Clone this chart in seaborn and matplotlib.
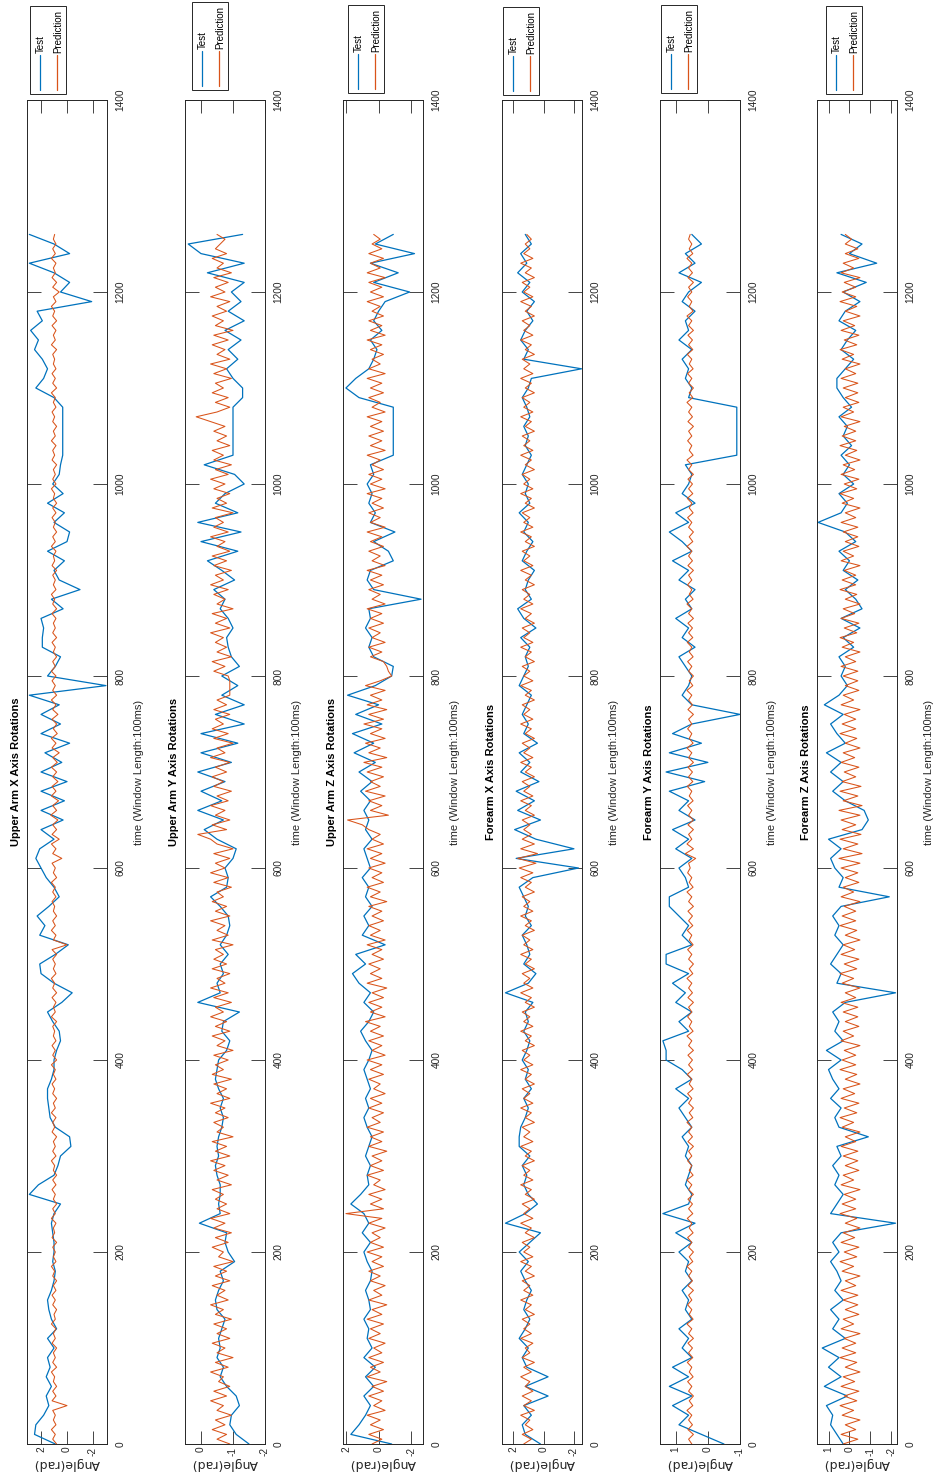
import numpy as np
import pandas as pd
import matplotlib
matplotlib.use("Agg")
import matplotlib.pyplot as plt
import seaborn as sns
from matplotlib.patches import Rectangle
from matplotlib.lines import Line2D

# ---------------- data ----------------
time_test = np.arange(0, 1261, 10)   # sample index of the Test series
time_pred = np.arange(0, 1261, 5)    # sample index of the Prediction series

titles = ["Upper Arm X Axis Rotations", "Upper Arm Y Axis Rotations",
          "Upper Arm Z Axis Rotations", "Forearm X Axis Rotations",
          "Forearm Y Axis Rotations", "Forearm Z Axis Rotations"]

ua_x_test = [0.9, 2.5, 2.4, 1.8, 1.4, 1.6, 1.2, 1.6, 1.3, 1.5,
             1.0, 1.5, 0.8, 1.2, 1.4, 1.5, 1.2, 1.0, 0.9, 1.1,
             1.0, 1.0, 1.1, 1.2, 1.0, 0.5, 2.9, 2.2, 1.0, 0.7,
             0.5, -0.3, -0.2, 0.9, 1.3, 1.4, 1.5, 1.5, 1.2, 1.0,
             1.0, 0.8, 0.5, 0.6, 1.1, 1.5, 0.4, -0.4, 1.0, 2.0,
             2.1, 0.9, -0.1, 2.1, 1.7, 2.3, 1.4, 0.6, 1.0, 1.6,
             2.0, 2.4, 2.1, 1.0, 2.0, 0.3, 2.0, 0.2, 2.0, 0.0,
             2.0, 0.4, 1.7, -0.2, 2.0, 0.5, 2.0, 0.6, 2.9, -3.0,
             1.5, 0.9, 0.5, 1.9, 1.9, 1.8, 2.0, 0.3, 1.2, -1.0,
             0.6, 1.0, 0.2, 1.5, 0.0, -0.2, 1.0, 0.2, 1.5, 0.3,
             1.1, 0.6, 0.5, 0.33, 0.33, 0.33, 0.33, 0.33, 0.33, 1.0,
             2.4, 1.8, 1.5, 1.9, 2.5, 2.2, 2.8, 1.9, 2.3, -1.9,
             0.5, -0.2, 1.0, 2.9, -0.2, 1.0, 2.9]
ua_x_pred = [0.8, 1.1, 0.9, 1.2, 0.85, 1.05, 0.9, 1.1, 0.0, 1.15,
             0.85, 1.1, 0.8, 1.05, 0.95, 1.2, 0.8, 1.1, 0.9, 1.05,
             0.8, 1.15, 0.9, 1.05, 0.85, 1.2, 0.9, 1.0, 0.8, 1.1,
             0.9, 1.15, 0.85, 1.05, 0.8, 1.1, 0.95, 1.2, 0.85, 1.05,
             0.9, 1.1, 0.8, 1.15, 0.95, 1.05, 0.85, 1.2, 0.9, 1.1,
             0.8, 1.05, 0.9, 1.15, 0.85, 1.1, 0.8, 1.05, 0.95, 1.2,
             0.85, 1.1, 0.9, 1.05, 0.8, 1.15, 0.95, 1.1, 0.85, 1.2,
             0.9, 1.05, 0.8, 1.1, 0.95, 1.15, 0.85, 1.05, 0.9, 1.2,
             0.8, 1.1, 0.9, 1.15, 0.85, 1.05, 0.95, 1.1, 0.8, 1.2,
             0.9, 1.05, 0.85, 1.15, 0.8, 1.1, 0.95, 1.2, 0.85, 1.05,
             0.9, 1.1, 0.8, 1.15, 0.0, 1.05, 0.85, 1.2, 0.9, 1.1,
             0.8, 1.05, 0.95, 1.15, 0.85, 1.1, 0.9, 1.2, 0.8, 1.05,
             0.9, 1.15, 0.4, 1.1, 0.85, 1.2, 0.6, 1.15, 0.8, 1.1,
             0.7, 1.25, 0.8, 1.1, 0.65, 1.2, 0.85, 1.15, 0.7, 1.1,
             0.8, 1.2, 0.75, 1.1, 0.6, 1.15, 0.85, 1.2, 0.75, 1.05,
             0.8, 1.15, 0.7, 1.1, 0.85, 1.2, 0.8, 1.1, 0.9, 1.15,
             0.85, 1.2, 0.9, 1.1, 0.8, 1.05, 0.9, 1.15, 0.8, 1.1,
             0.9, 1.05, 0.85, 1.15, 0.8, 1.1, 0.95, 1.2, 0.85, 1.05,
             0.9, 1.1, 0.8, 1.15, 0.95, 1.05, 0.85, 1.2, 0.9, 1.1,
             0.8, 1.05, 0.9, 1.15, 0.85, 1.1, 0.8, 1.05, 0.95, 1.2,
             0.85, 1.1, 0.9, 1.05, 0.8, 1.15, 0.95, 1.1, 0.85, 1.2,
             0.9, 1.05, 0.8, 1.1, 0.95, 1.15, 0.85, 1.05, 0.9, 1.2,
             0.8, 1.1, 0.9, 1.15, 0.85, 1.05, 0.95, 1.1, 0.8, 1.2,
             0.9, 1.05, 0.85, 1.15, 0.8, 1.1, 0.95, 1.2, 0.85, 1.05,
             0.6, 1.1, 0.8, 1.15, 0.9, 1.05, 0.85, 1.2, 0.9, 1.1,
             0.85, 1.05, 0.95]

ua_y_test = [-1.5, -1.1, -0.9, -0.95, -1.2, -1.1, -0.8, -0.6, -0.7, -0.5,
             -0.6, -0.55, -0.65, -0.75, -0.5, -0.45, -0.55, -0.7, -0.6, -1.05,
             -0.85, -0.75, -0.8, 0.05, -0.6, -0.55, -0.6, -0.6, -0.5, -0.45,
             -0.55, -0.5, -0.55, -0.65, -0.7, -0.6, -0.7, -0.55, -0.45, -0.5,
             -0.55, -0.8, -0.9, -0.65, -0.7, -1.2, 0.1, -0.6, -0.5, -0.7,
             -0.6, -0.85, -0.6, -0.8, -0.9, -0.85, -0.6, -0.3, -0.8, -0.85,
             -0.75, -1.0, -1.1, -0.5, -0.1, -0.7, 0.1, -0.65, 0.0, -0.75,
             0.1, -0.95, 0.0, -1.15, 0.0, -1.35, -0.45, -1.35, -0.65, -1.15,
             -0.65, -1.2, -0.95, -0.85, -0.8, -1.0, -0.85, -0.6, -0.75, -0.4,
             -1.05, -0.65, -0.2, -1.15, 0.0, -1.25, 0.1, -1.15, -0.45, -0.75,
             -1.35, -1.05, -0.1, -1.0, -1.0, -1.0, -1.0, -1.0, -1.0, -1.3,
             -1.3, -1.0, -0.8, -1.15, -0.85, -1.25, -0.75, -1.35, -0.85, -1.25,
             -0.95, -1.35, -0.2, -1.35, 0.0, 0.4, -1.3]
ua_y_pred = [-0.9, -0.5, -0.8, -0.35, -0.75, -0.45, -0.95, -0.5, -0.7, -0.3,
             -0.8, -0.4, -0.9, -0.55, -0.7, -0.3, -0.85, -0.45, -1.0, -0.5,
             -0.75, -0.35, -0.9, -0.5, -0.8, -0.4, -0.95, -0.45, -0.7, -0.3,
             -0.85, -0.5, -0.75, -0.35, -0.9, -0.45, -0.8, -0.4, -1.0, -0.55,
             -0.7, -0.35, -0.85, -0.45, -0.95, -0.4, -0.75, -0.3, -0.9, -0.5,
             -0.8, -0.45, -0.7, -0.35, -0.95, -0.5, -0.85, -0.4, -0.75, -0.3,
             -0.9, -0.45, -0.8, -0.35, -1.0, -0.5, -0.7, -0.4, -0.85, -0.45,
             -0.75, -0.3, -0.9, -0.5, -0.8, -0.4, -0.95, -0.35, -0.7, -0.45,
             -0.85, -0.4, -1.0, -0.5, -0.75, -0.35, -0.9, -0.45, -0.8, -0.3,
             -0.7, -0.45, -0.95, -0.4, -0.85, -0.3, -0.75, -0.5, -0.9, -0.35,
             -0.8, -0.4, -0.7, -0.45, -1.0, -0.35, -0.85, -0.5, -0.75, -0.3,
             -0.9, -0.45, -0.8, -0.35, -0.7, -0.5, -0.95, -0.4, -0.85, -0.3,
             -0.75, -0.45, -0.9, -0.4, -1.0, -0.5, -0.3, 0.1, -0.8, -0.35,
             -0.9, -0.45, -0.75, -0.3, -0.85, -0.5, -0.95, -0.4, -0.7, -0.35,
             -0.8, -0.45, -0.9, -0.3, -0.75, -0.5, -1.0, -0.4, -0.85, -0.35,
             -0.7, -0.45, -0.9, -0.4, -0.8, -0.5, -0.9, -0.9, -0.9, -0.9,
             -0.85, -0.4, -0.75, -0.35, -0.95, -0.5, -0.8, -0.45, -0.7, -0.3,
             -0.9, -0.45, -0.8, -0.35, -1.0, -0.5, -0.75, -0.4, -0.85, -0.3,
             -0.7, -0.45, -0.95, -0.4, -0.8, -0.35, -0.9, -0.5, -0.75, -0.3,
             -0.85, -0.4, -0.7, -0.45, -1.0, -0.35, -0.8, -0.5, -0.9, -0.4,
             -0.75, -0.3, -0.85, -0.45, -0.95, -0.4, -0.7, -0.35, -0.9, -0.5,
             -0.8, -0.4, -0.75, -0.3, 0.15, -0.5, -0.9, -0.45, -0.85, -0.35,
             -0.7, -0.45, -0.95, -0.4, -0.8, -0.3, -0.9, -0.5, -0.75, -0.35,
             -0.85, -0.4, -1.0, -0.45, -0.7, -0.35, -0.8, -0.5, -0.9, -0.3,
             -0.75, -0.45, -0.85, -0.4, -0.95, -0.5, -0.7, -0.35, -0.8, -0.45,
             -0.6, -0.75, -0.5]

ua_z_test = [-0.8, 1.7, 1.2, 0.8, 0.5, 0.9, 0.3, 0.8, 0.2, 0.9,
             0.4, 0.7, 0.6, 0.9, 0.5, 0.6, 0.8, 0.5, 0.4, 0.7,
             0.9, 0.5, 1.0, 0.6, 0.9, 1.7, 1.1, 0.6, 0.7, 0.5,
             0.8, 0.6, 0.4, 0.7, 0.9, 0.6, 0.8, 0.5, 0.7, 0.9,
             0.6, 0.4, 0.8, 1.1, 0.6, 0.3, 0.9, 0.5, 1.2, 1.6,
             0.8, 1.4, -0.4, 1.0, 0.6, 0.9, 0.4, 0.8, 0.6, 1.0,
             0.5, 0.7, 0.9, 0.4, 0.8, 0.6, 0.9, 0.5, 1.1, 0.4,
             1.2, 0.2, 1.5, 0.3, 1.6, -0.2, 1.4, 0.0, 1.9, 0.2,
             -0.8, -0.9, 0.3, 0.6, 0.4, 0.8, 0.5, 0.6, -2.6, 0.3,
             0.7, 0.5, -0.9, -0.6, 0.3, -1.0, 0.5, 0.2, 0.6, 0.4,
             0.7, 0.3, 0.5, -0.9, -0.9, -0.9, -0.9, -0.9, -0.9, 1.2,
             2.0, 1.4, 0.6, 0.3, 0.1, 0.5, -0.2, 0.3, 0.0, -0.4,
             -1.9, 0.3, -1.2, 0.5, -2.2, 0.2, -0.9]
ua_z_pred = [0.4, -0.2, 0.6, -0.3, 0.5, -0.1, 0.7, -0.4, 0.3, -0.2,
             0.6, -0.3, 0.4, -0.5, 0.7, -0.1, 0.5, -0.3, 0.6, -0.2,
             0.3, -0.4, 0.6, -0.1, 0.5, -0.3, 0.7, -0.2, 0.4, -0.5,
             0.6, -0.2, 0.3, -0.4, 0.5, -0.1, 0.6, -0.3, 0.4, -0.2,
             0.7, -0.3, 0.5, -0.1, 0.4, -0.4, 0.6, -0.2, 2.0, -0.3,
             0.5, -0.2, 0.6, -0.4, 0.3, -0.1, 0.7, -0.3, 0.5, -0.2,
             0.4, -0.5, 0.6, -0.2, 0.5, -0.3, 0.7, -0.1, 0.4, -0.3,
             0.6, -0.2, 0.5, -0.4, 0.3, -0.1, 0.6, -0.3, 0.5, -0.2,
             0.7, -0.4, 0.4, -0.2, 0.6, -0.3, 0.5, -0.1, 0.8, -0.4,
             0.5, -0.2, 0.6, -0.3, 0.4, -0.5, 0.7, -0.2, 0.5, -0.1,
             0.6, -0.3, 0.4, -0.2, 0.7, -0.4, 0.5, -0.1, 0.6, -0.3,
             0.4, -0.2, 0.6, -0.5, 0.5, -0.1, 0.7, -0.3, 0.4, -0.2,
             0.6, -0.4, 0.5, -0.2, 0.7, -0.3, 0.4, -0.1, 0.6, 1.0,
             1.9, -0.6, 0.5, -0.2, 0.6, -0.4, 0.8, -0.1, 0.5, -0.3,
             0.7, -0.2, 0.9, -0.5, 0.6, -0.1, 0.8, -0.4, 0.5, -0.2,
             0.9, -0.3, 0.6, -0.5, 0.7, -0.2, 0.5, -0.4, 0.8, -0.1,
             -0.8, -0.6, -0.5, -0.3, 0.5, -0.2, 0.6, -0.4, 0.4, -0.1,
             0.6, -0.3, 0.5, -0.2, 0.7, -0.4, 0.4, -0.1, 0.6, -0.3,
             0.5, -0.2, 0.7, -0.4, 0.4, -0.1, 0.6, -0.3, 0.5, -0.2,
             0.7, -0.4, 0.5, -0.1, 0.6, -0.3, 0.4, -0.2, 0.7, -0.4,
             0.5, -0.2, 0.6, -0.3, 0.4, -0.1, 0.7, -0.4, 0.5, -0.2,
             0.6, -0.3, 0.5, -0.2, 0.7, -0.4, 0.4, -0.1, 0.6, -0.3,
             0.5, -0.2, 0.7, -0.4, 0.6, -0.1, 0.4, -0.3, 0.5, -0.2,
             0.7, -0.4, 0.5, -0.2, 0.6, -0.3, 0.4, -0.1, 0.7, -0.3,
             0.5, -0.2, 0.6, -0.4, 0.7, -0.1, 0.5, -0.3, 0.6, -0.2,
             0.4, -0.1, 0.3]

fa_x_test = [0.2, 1.2, 1.4, 0.8, 1.3, -0.3, 1.2, -0.3, 1.1, 1.4,
             1.0, 1.6, 1.2, 0.9, 1.3, 1.1, 0.8, 1.2, 1.5, 1.0,
             1.6, 0.9, 0.2, 2.5, 1.2, 0.4, 1.0, 1.3, 1.1, 1.4,
             0.9, 1.6, 1.6, 1.5, 1.2, 1.0, 1.3, 0.8, 1.2, 1.0,
             1.4, 1.1, 0.9, 1.3, 1.0, 1.2, 0.7, 2.5, 1.0, 0.5,
             1.3, 0.9, 1.1, 1.4, 0.8, 1.2, 1.0, 1.3, 1.6, 0.7,
             -2.3, 1.8, -2.0, 0.5, 1.9, 0.2, 1.7, 0.6, 1.8, 0.3,
             1.5, 0.9, 1.6, 0.4, 1.3, 1.0, 1.4, 1.1, 0.8, 1.6,
             1.3, 1.0, 1.2, 0.9, 1.5, 0.5, 1.3, 1.7, 0.8, 1.2,
             1.0, 0.6, 1.4, 1.1, 0.7, 1.3, 1.0, 1.6, 0.9, 1.2,
             1.0, 1.4, 1.1, 0.8, 1.2, 1.0, 1.3, 0.9, 1.1, 1.4,
             1.0, 0.8, -2.5, 1.3, 1.0, 1.5, 1.2, 0.7, 1.1, 0.6,
             1.4, 0.9, 1.7, 1.1, 1.5, 0.8, 1.2]
fa_x_pred = [1.3, 0.8, 1.4, 0.7, 1.2, 0.9, 1.5, 0.6, 1.3, 0.8,
             1.4, 0.7, 1.2, 0.9, 1.5, 0.8, 1.3, 0.6, 1.4, 0.9,
             1.2, 0.7, 1.5, 0.8, 1.3, 0.9, 1.4, 0.6, 1.2, 0.8,
             1.5, 0.7, 1.3, 0.9, 1.4, 0.6, 1.2, 0.8, 1.5, 0.7,
             1.3, 0.9, 1.4, 0.6, 1.2, 0.8, 1.5, 0.7, 1.3, 0.9,
             1.4, 0.6, 1.2, 0.8, 1.5, 0.7, 1.3, 0.9, 1.4, 0.6,
             1.2, 0.8, 1.5, 0.7, 1.3, 0.9, 1.4, 0.6, 1.2, 0.8,
             1.5, 0.7, 1.3, 0.9, 1.4, 0.6, 1.2, 0.8, 1.5, 0.7,
             1.3, 0.9, 1.4, 0.6, 1.2, 0.8, 1.5, 0.7, 1.3, 0.9,
             1.4, 0.6, 1.2, 0.8, 1.5, 0.7, 1.3, 0.9, 1.4, 0.6,
             1.2, 0.8, 1.5, 0.7, 1.3, 0.9, 1.4, 0.6, 1.2, 0.8,
             1.5, 0.7, 1.3, 0.9, 1.4, 0.6, 1.2, 0.8, 1.5, 0.7,
             1.6, 0.5, 1.7, 0.4, 1.5, 0.6, 1.4, 0.8, 1.3, 0.9,
             1.4, 0.6, 1.2, 0.8, 1.5, 0.7, 1.3, 0.9, 1.4, 0.6,
             1.2, 0.8, 1.5, 0.7, 1.3, 0.9, 1.4, 0.6, 1.2, 0.8,
             1.5, 0.7, 1.3, 0.9, 1.4, 0.6, 1.2, 0.8, 1.5, 0.7,
             1.3, 0.9, 1.4, 0.6, 1.2, 0.8, 1.5, 0.7, 1.3, 0.9,
             1.4, 0.6, 1.2, 0.8, 1.5, 0.7, 1.3, 0.9, 1.4, 0.6,
             1.2, 0.8, 1.5, 0.7, 1.3, 0.9, 1.4, 0.6, 1.2, 0.8,
             1.5, 0.7, 1.3, 0.9, 1.4, 0.6, 1.2, 0.8, 1.5, 0.7,
             1.3, 0.9, 1.4, 0.6, 1.2, 0.8, 1.5, 0.7, 1.3, 0.9,
             1.4, 0.6, 1.2, 0.8, 1.5, 0.7, 1.3, 0.9, 1.4, 0.6,
             1.2, 0.8, 1.5, 0.7, 1.3, 0.9, 1.4, 0.6, 1.2, 0.8,
             1.5, 0.7, 1.3, 0.9, 1.4, 0.6, 1.2, 0.8, 1.5, 0.7,
             1.3, 0.9, 1.4, 0.6, 1.2, 0.8, 1.5, 0.7, 1.3, 0.9,
             1.2, 0.8, 1.1]

fa_y_test = [-0.5, 0.2, 0.9, 0.6, 1.1, 0.5, 1.2, 0.6, 1.1, 0.5,
             0.8, 0.6, 0.9, 0.5, 0.7, 0.6, 0.8, 0.5, 0.7, 0.6,
             0.9, 0.5, 1.0, 0.4, 1.4, 0.6, 0.5, 0.7, 0.6, 0.5,
             0.7, 0.6, 0.8, 0.5, 0.7, 0.9, 0.6, 1.0, 0.5, 0.8,
             1.3, 1.3, 1.4, 0.6, 0.9, 0.5, 1.0, 0.7, 1.1, 0.6,
             1.3, 1.3, 0.5, 0.8, 0.6, 0.9, 1.2, 1.2, 0.6, 0.7,
             0.9, 0.5, 1.0, 0.6, 1.1, 0.4, 0.9, 0.6, 1.2, 0.1,
             1.3, 0.0, 1.2, 0.2, 1.1, 0.5, -1.0, 0.5, 0.8, 0.6,
             0.5, 0.7, 0.9, 0.4, 0.8, 0.6, 1.0, 0.5, 0.7, 0.4,
             0.9, 0.6, 1.1, 0.5, 0.8, 1.2, 0.6, 1.0, 0.4, 0.8,
             0.6, 0.5, 0.7, -0.9, -0.9, -0.9, -0.9, -0.9, -0.9, 0.6,
             0.5, 0.7, 0.6, 0.8, 0.5, 0.9, 0.6, 0.7, 0.4, 0.8,
             0.6, 0.2, 0.9, 0.4, 0.7, 0.2, 0.5]
fa_y_pred = [0.5, 0.6, 0.45, 0.62, 0.48, 0.6, 0.5, 0.65, 0.47, 0.58,
             0.45, 0.6, 0.5, 0.63, 0.46, 0.58, 0.5, 0.64, 0.47, 0.6,
             0.48, 0.62, 0.45, 0.6, 0.5, 0.65, 0.46, 0.58, 0.5, 0.63,
             0.5, 0.6, 0.45, 0.62, 0.48, 0.6, 0.5, 0.65, 0.47, 0.58,
             0.45, 0.6, 0.5, 0.63, 0.46, 0.58, 0.5, 0.64, 0.47, 0.6,
             0.48, 0.62, 0.45, 0.6, 0.5, 0.65, 0.46, 0.58, 0.5, 0.63,
             0.5, 0.6, 0.45, 0.62, 0.48, 0.6, 0.5, 0.65, 0.47, 0.58,
             0.45, 0.6, 0.5, 0.63, 0.46, 0.58, 0.5, 0.64, 0.47, 0.6,
             0.48, 0.62, 0.45, 0.6, 0.5, 0.65, 0.46, 0.58, 0.5, 0.63,
             0.5, 0.6, 0.45, 0.62, 0.48, 0.6, 0.5, 0.65, 0.47, 0.58,
             0.45, 0.6, 0.5, 0.63, 0.46, 0.58, 0.5, 0.64, 0.47, 0.6,
             0.48, 0.62, 0.45, 0.6, 0.5, 0.65, 0.46, 0.58, 0.5, 0.63,
             0.55, 0.6, 0.38, 0.7, 0.45, 0.65, 0.5, 0.6, 0.45, 0.62,
             0.45, 0.6, 0.5, 0.63, 0.46, 0.58, 0.5, 0.64, 0.47, 0.6,
             0.48, 0.62, 0.45, 0.6, 0.5, 0.65, 0.46, 0.58, 0.5, 0.63,
             0.5, 0.6, 0.45, 0.62, 0.48, 0.6, 0.5, 0.65, 0.47, 0.58,
             0.45, 0.6, 0.5, 0.63, 0.46, 0.58, 0.5, 0.64, 0.47, 0.6,
             0.48, 0.62, 0.45, 0.6, 0.5, 0.65, 0.46, 0.58, 0.5, 0.63,
             0.5, 0.6, 0.45, 0.62, 0.48, 0.6, 0.5, 0.65, 0.47, 0.58,
             0.45, 0.6, 0.5, 0.63, 0.46, 0.58, 0.5, 0.64, 0.47, 0.6,
             0.48, 0.62, 0.45, 0.6, 0.5, 0.65, 0.46, 0.58, 0.5, 0.63,
             0.5, 0.6, 0.45, 0.62, 0.48, 0.6, 0.5, 0.65, 0.47, 0.58,
             0.45, 0.6, 0.5, 0.63, 0.46, 0.58, 0.5, 0.64, 0.47, 0.6,
             0.48, 0.62, 0.45, 0.6, 0.5, 0.65, 0.46, 0.58, 0.5, 0.63,
             0.5, 0.6, 0.45, 0.62, 0.48, 0.6, 0.5, 0.65, 0.47, 0.58,
             0.5, 0.6, 0.55]

fa_z_test = [0.3, 0.6, 0.9, 0.8, 1.1, 0.1, 1.2, 0.4, 1.0, 0.5,
             1.3, 0.2, 0.8, 0.5, 0.9, 0.3, 0.7, 0.4, 0.6, 0.9,
             0.5, 0.8, 0.4, -2.2, 0.9, 0.6, 0.3, 0.7, 0.5, 0.8,
             0.4, 0.6, -0.9, 0.5, 0.7, 0.4, 0.9, 0.5, 0.8, 1.0,
             0.4, 1.1, 0.3, 0.7, 0.5, 0.8, 0.2, -2.2, 0.6, 0.4,
             0.9, 0.6, 0.3, 0.7, 0.5, 0.8, 0.4, -1.9, 0.5, 0.3,
             0.7, 0.9, 0.4, 1.0, -0.6, -0.9, -0.7, 0.2, 0.8, 0.3,
             0.9, 0.4, 1.1, 0.2, 0.6, 0.9, 0.3, 1.2, 0.5, 0.1,
             0.4, 0.2, 0.5, -0.2, 0.3, -0.5, 0.4, -0.6, -0.3, 0.2,
             -0.4, 0.3, 0.0, 0.5, -0.3, 0.2, 1.5, 0.4, 0.1, 0.5,
             -0.2, 0.3, 0.0, 0.4, -0.1, 0.3, 0.1, 0.5, -0.1, 0.3,
             0.6, 0.6, 0.2, -0.2, 0.4, 0.1, -0.3, 0.5, 0.2, -0.5,
             0.3, -0.8, 0.6, -1.3, 0.0, -0.6, 0.4]
fa_z_pred = [0.3, -0.4, 0.4, -0.3, 0.2, -0.5, 0.35, -0.2, 0.45, -0.35,
             0.25, -0.45, 0.4, -0.25, 0.3, -0.5, 0.2, -0.35, 0.45, -0.3,
             0.35, -0.3, 0.25, -0.5, 0.4, -0.2, 0.3, -0.45, 0.2, -0.4,
             0.3, -0.4, 0.4, -0.3, 0.2, -0.5, 0.35, -0.2, 0.45, -0.35,
             0.25, -0.45, 0.4, -0.25, 0.3, -0.5, 0.2, -0.35, 0.45, -0.3,
             0.35, -0.3, 0.25, -0.5, 0.4, -0.2, 0.3, -0.45, 0.2, -0.4,
             0.3, -0.4, 0.4, -0.3, 0.2, -0.5, 0.35, -0.2, 0.45, -0.35,
             0.25, -0.45, 0.4, -0.25, 0.3, -0.5, 0.2, -0.35, 0.45, -0.3,
             0.35, -0.3, 0.25, -0.5, 0.4, -0.2, 0.3, -0.45, 0.2, -0.4,
             0.3, -0.4, 0.4, -0.3, 0.2, -0.5, 0.35, -0.2, 0.45, -0.35,
             0.25, -0.45, 0.4, -0.25, 0.3, -0.5, 0.2, -0.35, 0.45, -0.3,
             0.35, -0.3, 0.25, -0.5, 0.4, -0.2, 0.3, -0.45, 0.2, -0.4,
             0.4, -0.5, 0.5, -0.6, 0.3, -0.4, 0.45, -0.55, 0.35, -0.3,
             0.4, -0.5, 0.5, -0.6, 0.3, -0.4, 0.45, -0.55, 0.35, -0.3,
             0.25, -0.45, 0.4, -0.25, 0.3, -0.5, 0.2, -0.35, 0.45, -0.3,
             0.35, -0.3, 0.25, -0.5, 0.4, -0.2, 0.3, -0.45, 0.2, -0.4,
             0.3, -0.4, 0.4, -0.3, 0.2, -0.5, 0.35, -0.2, 0.45, -0.35,
             0.25, -0.45, 0.4, -0.25, 0.3, -0.5, 0.2, -0.35, 0.45, -0.3,
             0.35, -0.3, 0.25, -0.5, 0.4, -0.2, 0.3, -0.45, 0.2, -0.4,
             0.3, -0.4, 0.4, -0.3, 0.2, -0.5, 0.35, -0.2, 0.45, -0.35,
             0.25, -0.45, 0.4, -0.25, 0.3, -0.5, 0.2, -0.35, 0.45, -0.3,
             0.35, -0.3, 0.25, -0.5, 0.4, -0.2, 0.3, -0.45, 0.2, -0.4,
             0.3, -0.4, 0.4, -0.3, 0.2, -0.5, 0.35, -0.2, 0.45, -0.35,
             0.25, -0.45, 0.4, -0.25, 0.3, -0.5, 0.2, -0.35, 0.45, -0.3,
             0.35, -0.3, 0.25, -0.5, 0.4, -0.2, 0.3, -0.45, 0.2, -0.4,
             0.2, -0.1, 0.2]

tests = [ua_x_test, ua_y_test, ua_z_test, fa_x_test, fa_y_test, fa_z_test]
preds = [ua_x_pred, ua_y_pred, ua_z_pred, fa_x_pred, fa_y_pred, fa_z_pred]

angle_ticks = [[2, 0, -2], [0, -1, -2], [2, 0, -2], [2, 0, -2], [1, 0, -1], [1, 0, -1, -2]]
time_ticks = list(range(0, 1401, 200))

# ---------------- layout / style ----------------
W, H = 938, 1479
BLUE = "#0072BD"
ORANGE = "#D95319"
DARK = "#262626"

panel_left = [27, 185, 343, 502, 660, 817]
panel_width = 80
ax_top, ax_bot = 100, 1444
angle_lims = [(-3.08, 3.08), (-2.0, 0.5), (-2.72, 2.18), (-2.53, 2.73), (-0.98, 1.49), (-2.27, 1.55)]
legend_left = [30, 192, 348, 503, 661, 826]
legend_top = [6, 2, 5, 7, 5, 6]

sns.set_style("white")
plt.rcParams["font.family"] = ["Liberation Sans", "DejaVu Sans"]


def fx(x):
    return x / W


def fy(y):
    return 1 - y / H


fig = plt.figure(figsize=(W / 100, H / 100), dpi=100)
fig.patch.set_facecolor("white")

for i in range(6):
    L = panel_left[i]
    ax = fig.add_axes([fx(L), fy(ax_bot), panel_width / W, (ax_bot - ax_top) / H])
    df_t = pd.DataFrame({"time": time_test, "Test": tests[i]})
    df_p = pd.DataFrame({"time": time_pred, "Prediction": preds[i]})
    sns.lineplot(data=df_t, x="Test", y="time", sort=False, orient="y", estimator=None,
                 color=BLUE, linewidth=0.9, ax=ax, legend=False)
    sns.lineplot(data=df_p, x="Prediction", y="time", sort=False, orient="y", estimator=None,
                 color=ORANGE, linewidth=0.75, ax=ax, legend=False)
    lo, hi = angle_lims[i]
    ax.set_xlim(hi, lo)
    ax.set_ylim(0, 1400)

    ax.set_xticks(angle_ticks[i])
    ax.set_xticklabels([str(v) for v in angle_ticks[i]])
    ax.set_yticks(time_ticks)
    ax.set_yticklabels([str(v) for v in time_ticks])

    ax.tick_params(axis="x", which="both", direction="in", top=True, bottom=True,
                   length=9.5, width=0.6, color=DARK, labelsize=7.3, labelcolor=DARK,
                   rotation=90, pad=2)
    ax.tick_params(axis="y", which="both", direction="in", left=True, right=True,
                   labelleft=False, labelright=True, length=10, width=0.6, color=DARK,
                   labelsize=7.3, labelcolor=DARK, rotation=90, pad=6)
    for lbl in ax.get_yticklabels():
        lbl.set_verticalalignment("center")

    for sp in ax.spines.values():
        sp.set_visible(True)
        sp.set_color(DARK)
        sp.set_linewidth(0.7)

    ax.set_xlabel("Angle(rad)", rotation=180, fontsize=9, color=DARK, labelpad=1,
                  family=["DejaVu Sans"])
    ax.yaxis.set_label_position("right")
    ax.set_ylabel("time (Window Length:100ms)", rotation=90, fontsize=8, color=DARK,
                  labelpad=6)

    fig.text(fx(L - 11), fy((ax_top + ax_bot) / 2), titles[i], rotation=90,
             ha="center", va="center", fontsize=8, fontweight="bold", color="black")

    # legend (rotated, drawn manually)
    lx, ly = legend_left[i], legend_top[i]
    fig.add_artist(Rectangle((fx(lx), fy(ly + 88)), 36 / W, 88 / H,
                             transform=fig.transFigure, fc="white", ec=DARK, lw=0.7))
    for k, (name, col) in enumerate([("Test", BLUE), ("Prediction", ORANGE)]):
        cx = lx + 10 + 17 * k
        fig.add_artist(Line2D([fx(cx), fx(cx)], [fy(ly + 49), fy(ly + 84)],
                              transform=fig.transFigure, color=col, lw=0.9))
        fig.text(fx(cx + 1), fy(ly + 47), name, rotation=90, ha="center", va="bottom",
                 fontsize=7, color="black")

fig.savefig("out.png", dpi=100, facecolor="white")
